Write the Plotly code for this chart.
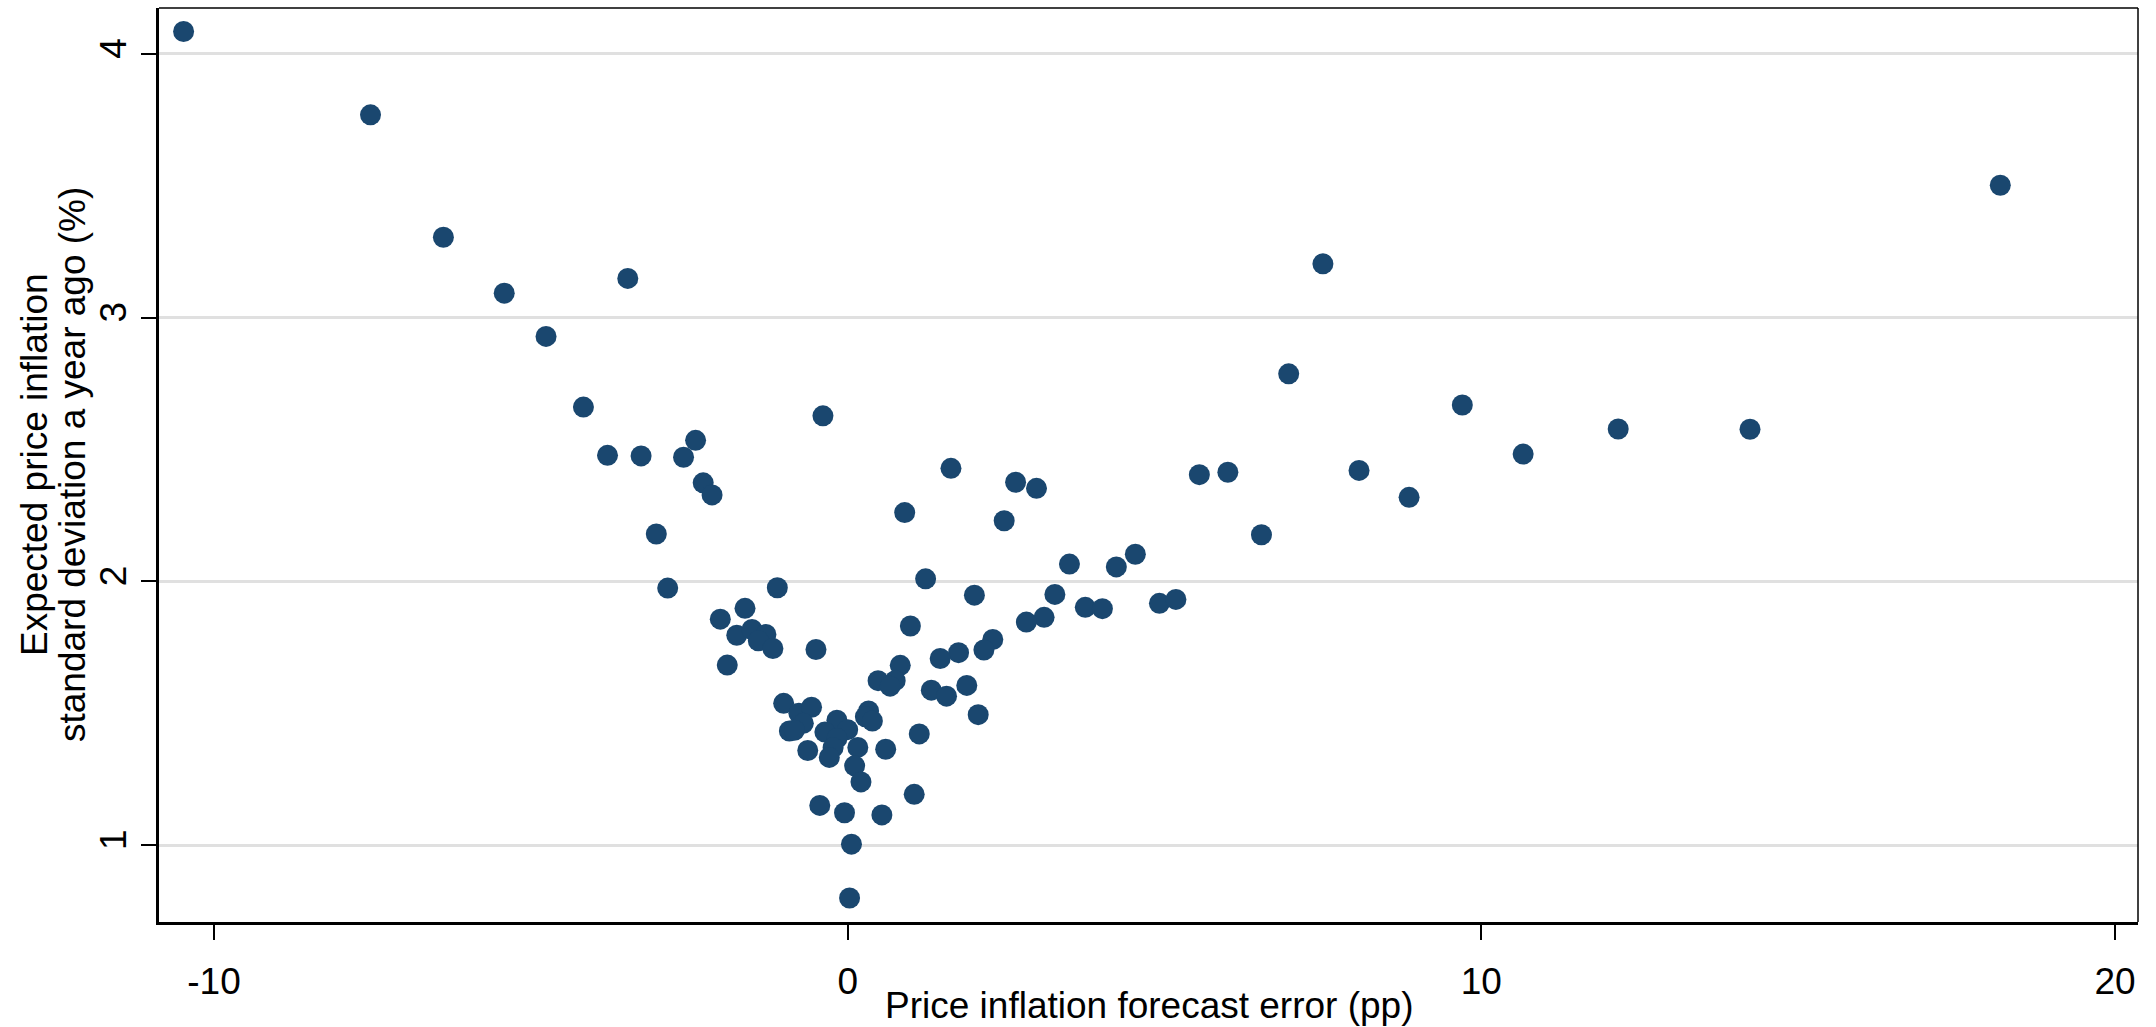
import plotly.graph_objects as go

# Price inflation forecast error (pp)
forecast_error = [
    -10.48, -7.53, -6.38, -5.42, -4.76, -4.17, -3.79, -3.26, -3.47, -2.59,
    -2.40, -2.28, -2.14, -3.02, -0.39, -2.84, -1.11, -2.01, -1.62, -1.75,
    -1.51, -1.29, -1.41, -1.18, -1.90, -0.50, -1.01, -0.77, -0.57, -0.70,
    -0.92, -0.84, -0.63, -0.17, -0.36, 0.00, -0.17, -0.23, -0.29, 0.16,
    0.11, 0.21, 0.33, 0.28, 0.39, -0.44, -0.05, 0.54, 1.05, 0.06,
    0.03, 0.90, 1.63, 2.47, 2.65, 2.98, 1.23, 2.00, 0.99, 3.50,
    4.54, 4.24, 3.27, 3.75, 4.02, 3.10, 2.82, 2.29, 2.15, 1.75,
    1.46, 0.83, 0.75, 0.48, 0.67, 1.32, 1.56, 1.88, 2.06, 1.13,
    0.60, 4.92, 5.18, 5.55, 6.00, 6.53, 6.96, 7.50, 8.07, 8.86,
    9.70, 10.66, 12.16, 14.24, 18.19,
]

# Expected price inflation standard deviation a year ago (%)
expected_sd = [
    4.085, 3.769, 3.305, 3.093, 2.929, 2.661, 2.478, 2.476, 3.149, 2.471,
    2.535, 2.374, 2.328, 2.180, 2.628, 1.975, 1.976, 1.857, 1.898, 1.796,
    1.818, 1.799, 1.775, 1.746, 1.683, 1.742, 1.538, 1.500, 1.523, 1.462,
    1.433, 1.436, 1.359, 1.474, 1.429, 1.438, 1.405, 1.370, 1.333, 1.371,
    1.301, 1.240, 1.509, 1.487, 1.471, 1.151, 1.123, 1.115, 1.193, 1.004,
    0.800, 2.261, 2.429, 2.230, 2.376, 2.353, 2.010, 1.948, 1.831, 2.066,
    2.103, 2.055, 1.951, 1.902, 1.897, 1.864, 1.846, 1.780, 1.740, 1.730,
    1.708, 1.682, 1.624, 1.624, 1.603, 1.588, 1.565, 1.606, 1.495, 1.422,
    1.364, 1.917, 1.932, 2.405, 2.414, 2.177, 2.787, 3.204, 2.421, 2.319,
    2.669, 2.483, 2.578, 2.577, 3.502,
]

x_ticks = [-10, 0, 10, 20]
y_ticks = [1, 2, 3, 4]

x_title = "Price inflation forecast error (pp)"
y_title_line1 = "Expected price inflation"
y_title_line2 = "standard deviation a year ago (%)"

FONT = "Liberation Sans, Arial, sans-serif"
NAVY = "#1a476f"

fig = go.Figure()
fig.add_trace(go.Scatter(
    x=forecast_error, y=expected_sd, mode="markers",
    marker=dict(size=21, color=NAVY, line=dict(width=0)),
    showlegend=False, hoverinfo="x+y",
))

fig.update_layout(
    width=2156, height=1027,
    margin=dict(l=159, r=18, t=8, b=105),
    paper_bgcolor="white", plot_bgcolor="white",
    font=dict(family=FONT, size=37, color="black"),
    xaxis=dict(
        range=[-10.868, 20.363], tickvals=x_ticks, ticktext=[str(v) for v in x_ticks],
        showgrid=False, zeroline=False,
        showline=True, linecolor="black", linewidth=3,
        ticks="outside", ticklen=15, tickwidth=2, tickcolor="black",
        tickfont=dict(family=FONT, size=37, color="black"),
        ticklabelstandoff=10,
    ),
    yaxis=dict(
        range=[0.709, 4.174], tickvals=y_ticks, ticktext=[str(v) for v in y_ticks],
        showgrid=True, gridcolor="#e0e0e0", gridwidth=2.5, zeroline=False,
        showline=True, linecolor="black", linewidth=3,
        ticks="outside", ticklen=15, tickwidth=2, tickcolor="black",
        tickangle=-90,
        tickfont=dict(family=FONT, size=37, color="black"),
        ticklabelstandoff=0,
    ),
    shapes=[
        dict(type="line", xref="paper", yref="paper", x0=0, x1=1, y0=1, y1=1,
             line=dict(color="black", width=1.5)),
        dict(type="line", xref="paper", yref="paper", x0=1, x1=1, y0=0, y1=1,
             line=dict(color="black", width=1.5)),
    ],
    annotations=[
        dict(text=x_title, xref="paper", yref="paper", x=0.5, y=0,
             xanchor="center", yanchor="top", yshift=-61, showarrow=False,
             font=dict(family=FONT, size=37, color="black")),
        dict(text=y_title_line1, xref="paper", yref="paper", x=0, y=0.5,
             xanchor="center", yanchor="middle", xshift=34 - 159, textangle=-90,
             showarrow=False, font=dict(family=FONT, size=37, color="black")),
        dict(text=y_title_line2, xref="paper", yref="paper", x=0, y=0.5,
             xanchor="center", yanchor="middle", xshift=72 - 159, textangle=-90,
             showarrow=False, font=dict(family=FONT, size=37, color="black")),
    ],
)

fig.write_html("out.html")
